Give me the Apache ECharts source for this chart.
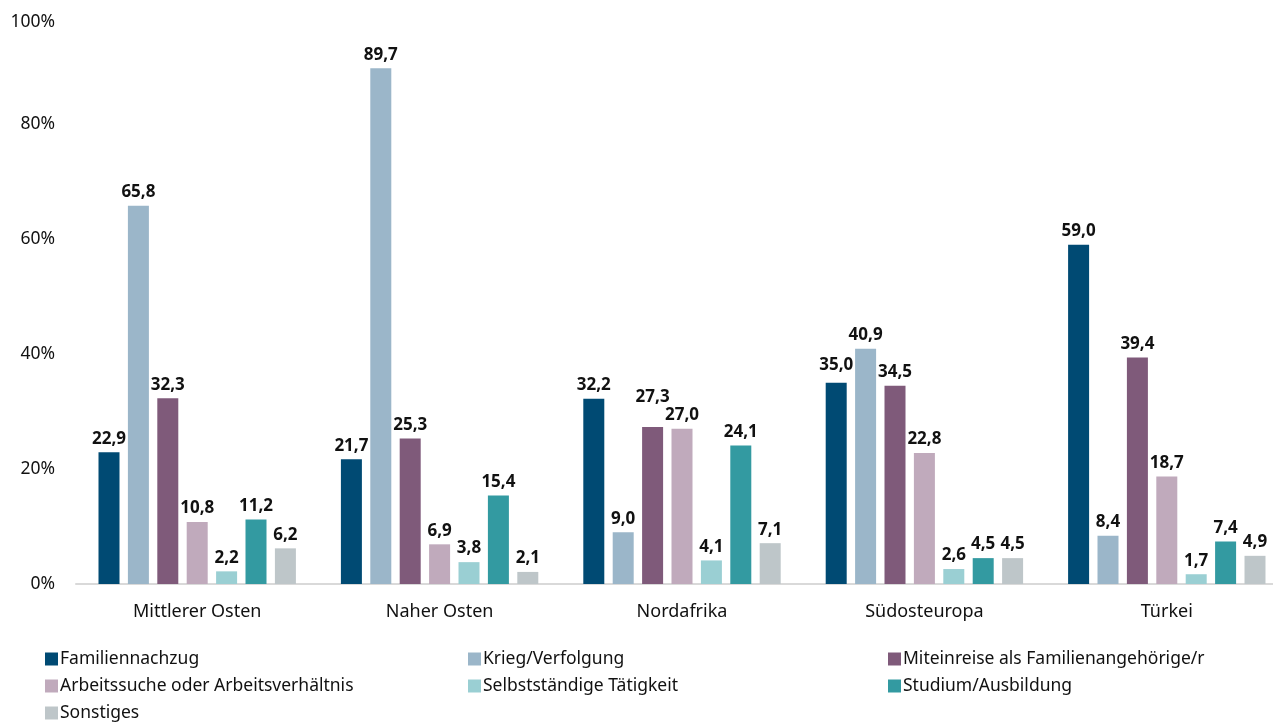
<!DOCTYPE html>
<html>
<head>
<meta charset="utf-8">
<script src="https://cdn.jsdelivr.net/npm/echarts@6/dist/echarts.min.js"></script>
<style>html,body{margin:0;padding:0;background:#fff}#c{width:1273px;height:722px}</style>
</head>
<body>
<div id="c"></div>
<script>
const categories = ['Mittlerer Osten', 'Naher Osten', 'Nordafrika', 'Südosteuropa', 'Türkei'];
const seriesNames = ['Familiennachzug', 'Krieg/Verfolgung', 'Miteinreise als Familienangehörige/r', 'Arbeitssuche oder Arbeitsverhältnis', 'Selbstständige Tätigkeit', 'Studium/Ausbildung', 'Sonstiges'];
const familiennachzug = [22.9, 21.7, 32.2, 35.0, 59.0];
const krieg = [65.8, 89.7, 9.0, 40.9, 8.4];
const miteinreise = [32.3, 25.3, 27.3, 34.5, 39.4];
const arbeit = [10.8, 6.9, 27.0, 22.8, 18.7];
const selbst = [2.2, 3.8, 4.1, 2.6, 1.7];
const studium = [11.2, 15.4, 24.1, 4.5, 7.4];
const sonstiges = [6.2, 2.1, 7.1, 4.5, 4.9];
const yTicks = [0, 20, 40, 60, 80, 100];

const colors = ['#004a73', '#9bb6c9', '#7f5a7a', '#c0aabc', '#9acfd3', '#339aa1', '#bec6c9'];
const values = [familiennachzug, krieg, miteinreise, arbeit, selbst, studium, sonstiges];
const font = '"Noto Sans", "Open Sans", sans-serif';

const series = seriesNames.map((n, i) => ({
  name: n,
  type: 'bar',
  data: values[i].map((v, j) => {
    // the reference lifts the "27,3" label (Miteinreise, Nordafrika) to avoid overlap
    if (i === 2 && j === 2) return { value: v, label: { offset: [0, -16] } };
    if (i === 0 && j === 3) return { value: v, label: { offset: [0, -4] } };
    return v;
  }),
  barWidth: 21,
  barGap: '40%',
  itemStyle: { color: colors[i] },
  label: {
    show: true,
    position: 'top',
    distance: 5,
    fontFamily: font,
    fontWeight: 'bold',
    fontSize: 17,
    color: '#111',
    formatter: p => p.value.toFixed(1).replace('.', ',')
  }
}));

const legendBase = {
  orient: 'vertical',
  itemWidth: 13,
  itemHeight: 13,
  itemGap: 5,
  icon: 'rect',
  height: 120,
  textStyle: { fontFamily: font, fontSize: 17.5, color: '#111', lineHeight: 22, padding: [0, 0, 0, -3] },
  top: 643
};

const chart = echarts.init(document.getElementById('c'));
chart.setOption({
  animation: false,
  grid: { left: 76, width: 1212, top: 9, bottom: 138, outerBoundsMode: 'none', containLabel: false },
  xAxis: {
    type: 'category',
    data: categories,
    axisTick: { show: false },
    axisLine: { lineStyle: { color: '#d9d9d9', width: 2 } },
    axisLabel: { fontFamily: font, fontSize: 18, color: '#111', margin: 19 }
  },
  yAxis: {
    type: 'value',
    min: 0,
    max: 100,
    interval: 20,
    splitLine: { show: false },
    axisLine: { show: false },
    axisTick: { show: false },
    axisLabel: {
      fontFamily: font, fontSize: 17.5, color: '#111', margin: 21,
      formatter: v => yTicks.includes(v) ? (v === 100 ? '{a|100%}' : v + '%') : '',
      rich: { a: { fontFamily: font, fontSize: 17.5, color: '#111', padding: [26, 0, 0, 0] } }
    }
  },
  legend: [
    Object.assign({}, legendBase, { left: 40, data: [seriesNames[0], seriesNames[3], seriesNames[6]] }),
    Object.assign({}, legendBase, { left: 463, data: [seriesNames[1], seriesNames[4]] }),
    Object.assign({}, legendBase, { left: 883, data: [seriesNames[2], seriesNames[5]] })
  ],
  series: series
});
</script>
</body>
</html>
